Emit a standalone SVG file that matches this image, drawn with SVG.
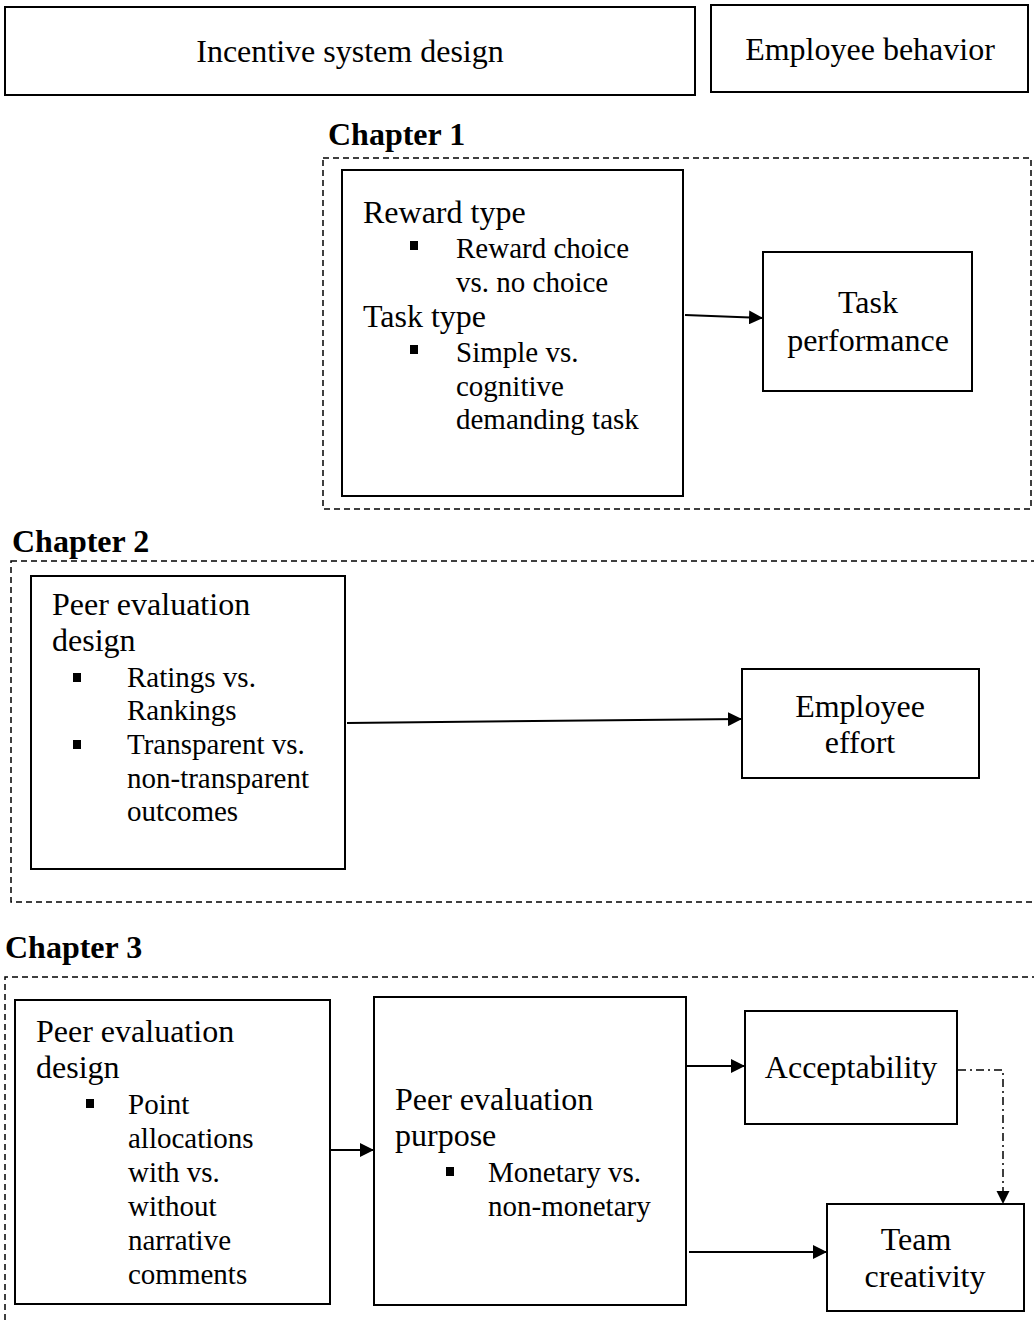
<svg xmlns="http://www.w3.org/2000/svg" width="1034" height="1323" viewBox="0 0 1034 1323">
<defs>
<style>
text{font-family:"Liberation Serif","Times New Roman",serif;font-size:32px;fill:#000}
.s{font-size:29px}
.h{font-weight:bold}
.c{text-anchor:middle}
.box{fill:#fff;stroke:#000;stroke-width:2}
.dash{fill:none;stroke:#000;stroke-width:1.5;stroke-dasharray:6 4}
.conn{fill:none;stroke:#000;stroke-width:2}
.dd{fill:none;stroke:#000;stroke-width:1.5;stroke-dasharray:8 4 2 4}
.bul{fill:#000}
</style>
<marker id="arr" viewBox="0 0 10 10" refX="10" refY="5" markerWidth="7" markerHeight="7" orient="auto" markerUnits="strokeWidth">
<path d="M0,0 L10,5 L0,10 z" fill="#000"/>
</marker>
<marker id="arr2" viewBox="0 0 10 10" refX="10" refY="5" markerWidth="9" markerHeight="9" orient="auto" markerUnits="strokeWidth">
<path d="M0,0 L10,5 L0,10 z" fill="#000"/>
</marker>
</defs>

<g id="header-design">
<rect class="box" x="5" y="7" width="690" height="88"/>
<text class="c" x="350" y="62">Incentive system design</text>
</g>
<g id="header-behavior">
<rect class="box" x="711" y="5" width="317" height="87"/>
<text class="c" x="870" y="60">Employee behavior</text>
</g>

<g id="chapter1">
<text class="h" x="328" y="145">Chapter 1</text>
<rect class="dash" x="323" y="158" width="708" height="351"/>
</g>
<g id="ch1-factors">
<rect class="box" x="342" y="170" width="341" height="326"/>
<text x="363" y="223">Reward type</text>
<rect class="bul" x="410" y="241" width="8" height="9"/>
<text class="s" x="456" y="258">Reward choice</text>
<text class="s" x="456" y="292">vs. no choice</text>
<text x="363" y="327">Task type</text>
<rect class="bul" x="410" y="345" width="8" height="9"/>
<text class="s" x="456" y="362">Simple vs.</text>
<text class="s" x="456" y="396">cognitive</text>
<text class="s" x="456" y="429">demanding task</text>
</g>
<g id="ch1-performance">
<rect class="box" x="763" y="252" width="209" height="139"/>
<text class="c" x="868" y="313">Task</text>
<text class="c" x="868" y="351">performance</text>
</g>

<g id="chapter2">
<text class="h" x="12" y="552">Chapter 2</text>
<rect class="dash" x="11" y="561" width="1030" height="341"/>
</g>
<g id="ch2-design">
<rect class="box" x="31" y="576" width="314" height="293"/>
<text x="52" y="615">Peer evaluation</text>
<text x="52" y="651">design</text>
<rect class="bul" x="73" y="673" width="8" height="9"/>
<text class="s" x="127" y="687">Ratings vs.</text>
<text class="s" x="127" y="720">Rankings</text>
<rect class="bul" x="73" y="740" width="8" height="9"/>
<text class="s" x="127" y="754">Transparent vs.</text>
<text class="s" x="127" y="788">non-transparent</text>
<text class="s" x="127" y="821">outcomes</text>
</g>
<g id="ch2-effort">
<rect class="box" x="742" y="669" width="237" height="109"/>
<text class="c" x="860" y="717">Employee</text>
<text class="c" x="860" y="753">effort</text>
</g>

<g id="chapter3">
<text class="h" x="5" y="958">Chapter 3</text>
<path class="dash" d="M5,1330 V977 H1040"/>
</g>
<g id="ch3-design">
<rect class="box" x="15" y="1000" width="315" height="304"/>
<text x="36" y="1042">Peer evaluation</text>
<text x="36" y="1078">design</text>
<rect class="bul" x="86" y="1099" width="8" height="9"/>
<text class="s" x="128" y="1114">Point</text>
<text class="s" x="128" y="1148">allocations</text>
<text class="s" x="128" y="1182">with vs.</text>
<text class="s" x="128" y="1216">without</text>
<text class="s" x="128" y="1250">narrative</text>
<text class="s" x="128" y="1284">comments</text>
</g>
<g id="ch3-purpose">
<rect class="box" x="374" y="997" width="312" height="308"/>
<text x="395" y="1110">Peer evaluation</text>
<text x="395" y="1146">purpose</text>
<rect class="bul" x="446" y="1167" width="8" height="9"/>
<text class="s" x="488" y="1182">Monetary vs.</text>
<text class="s" x="488" y="1216">non-monetary</text>
</g>
<g id="ch3-acceptability">
<rect class="box" x="745" y="1011" width="212" height="113"/>
<text class="c" x="851" y="1078">Acceptability</text>
</g>
<g id="ch3-creativity">
<rect class="box" x="827" y="1204" width="197" height="107"/>
<text class="c" x="916" y="1250">Team</text>
<text class="c" x="925" y="1287">creativity</text>
</g>

<g id="connectors">
<line class="conn" x1="685" y1="315" x2="763" y2="318" marker-end="url(#arr)"/>
<line class="conn" x1="347" y1="723" x2="742" y2="719" marker-end="url(#arr)"/>
<line class="conn" x1="331" y1="1150" x2="374" y2="1150" marker-end="url(#arr)"/>
<line class="conn" x1="686" y1="1066" x2="745" y2="1066" marker-end="url(#arr)"/>
<line class="conn" x1="689" y1="1252" x2="827" y2="1252" marker-end="url(#arr)"/>
<path class="dd" d="M958,1070 H1003 V1204" marker-end="url(#arr2)"/>
</g>
</svg>
